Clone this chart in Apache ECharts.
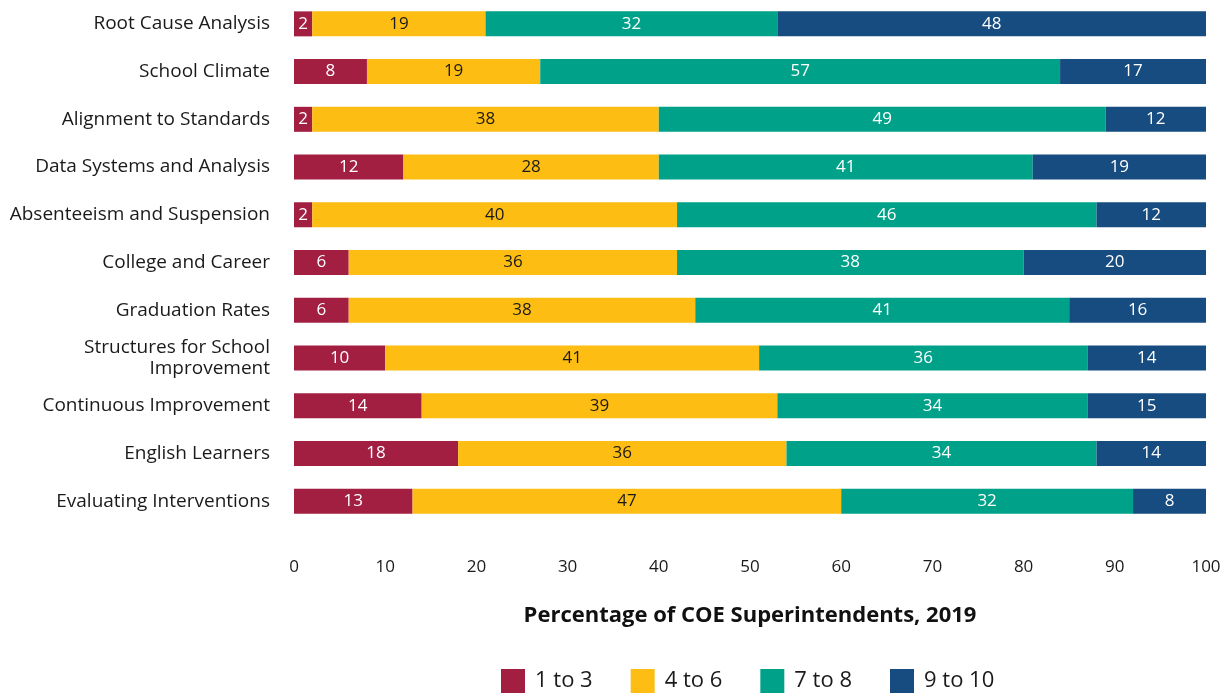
<!DOCTYPE html>
<html>
<head>
<meta charset="utf-8">
<script src="https://cdn.jsdelivr.net/npm/echarts@6/dist/echarts.min.js"></script>
<style>
  html, body { margin: 0; padding: 0; background: #fff; }
  #chart { width: 1231px; height: 693px; }
</style>
</head>
<body>
<div id="chart"></div>
<script>
// Priority areas, listed top to bottom
const categories = [
  'Root Cause Analysis',
  'School Climate',
  'Alignment to Standards',
  'Data Systems and Analysis',
  'Absenteeism and Suspension',
  'College and Career',
  'Graduation Rates',
  'Structures for School\nImprovement',
  'Continuous Improvement',
  'English Learners',
  'Evaluating Interventions'
];

// Share of superintendents giving each rating band (percent)
const rating1to3  = [2, 8, 2, 12, 2, 6, 6, 10, 14, 18, 13];
const rating4to6  = [19, 19, 38, 28, 40, 36, 38, 41, 39, 36, 47];
const rating7to8  = [32, 57, 49, 41, 46, 38, 41, 36, 34, 34, 32];
const rating9to10 = [48, 17, 12, 19, 12, 20, 16, 14, 15, 14, 8];

const seriesNames = ['1 to 3', '4 to 6', '7 to 8', '9 to 10'];
const seriesColors = ['#A21F42', '#FDBD12', '#00A189', '#164C80'];
const labelColors = ['#ffffff', '#1a1a1a', '#ffffff', '#ffffff'];
const seriesData = [rating1to3, rating4to6, rating7to8, rating9to10];

const FONT = '"Open Sans", Lato, sans-serif';

const chart = echarts.init(document.getElementById('chart'), null, { renderer: 'canvas' });

chart.setOption({
  animation: false,
  textStyle: { fontFamily: FONT },
  grid: { left: 294, right: 25, top: -2, height: 527, containLabel: false },
  legend: {
    top: 669,
    left: 501,
    padding: 0,
    itemWidth: 24,
    itemHeight: 24,
    itemGap: 38,
    icon: 'rect',
    textStyle: { fontSize: 22, color: '#1a1a1a', fontFamily: FONT, padding: [0, 0, 0, 5] },
    data: seriesNames
  },
  xAxis: {
    type: 'value',
    min: 0,
    max: 100,
    interval: 10,
    splitLine: { show: false },
    axisLine: { show: false },
    axisTick: { show: false },
    axisLabel: { fontSize: 17, color: '#1a1a1a', margin: 34, fontFamily: FONT },
    name: 'Percentage of COE Superintendents, 2019',
    nameLocation: 'middle',
    nameGap: 80,
    nameTextStyle: { fontSize: 22, fontWeight: 'bold', color: '#111', fontFamily: FONT }
  },
  yAxis: {
    type: 'category',
    inverse: true,
    data: categories,
    axisLine: { show: false },
    axisTick: { show: false },
    axisLabel: {
      fontSize: 19,
      color: '#1a1a1a',
      margin: 24,
      align: 'right',
      lineHeight: 21,
      fontFamily: FONT
    }
  },
  series: seriesData.map((vals, i) => ({
    name: seriesNames[i],
    type: 'bar',
    stack: 'total',
    barWidth: 25,
    data: vals,
    itemStyle: { color: seriesColors[i] },
    label: {
      show: true,
      position: 'inside',
      color: labelColors[i],
      fontSize: 17,
      fontFamily: FONT
    }
  }))
});
</script>
</body>
</html>
